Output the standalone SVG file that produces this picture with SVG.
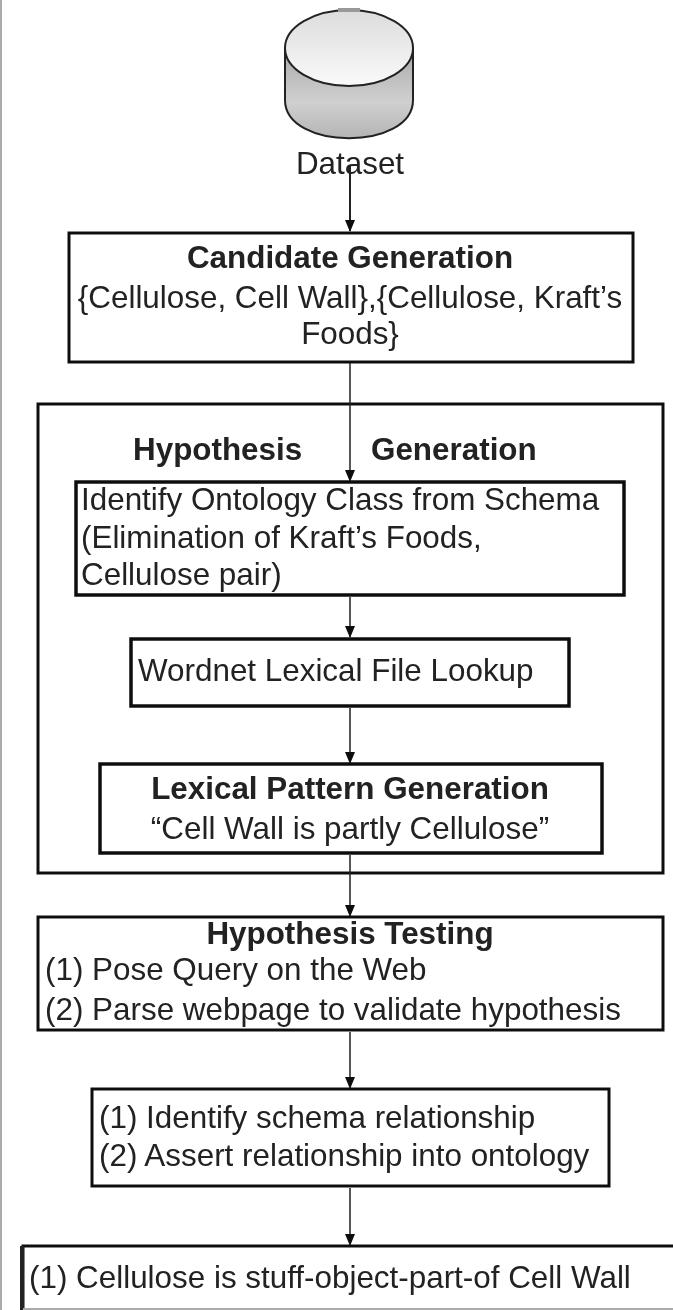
<svg xmlns="http://www.w3.org/2000/svg" width="673" height="1310" viewBox="0 0 673 1310">
<style>
text{font-family:"Liberation Sans",Arial,sans-serif;font-size:31.4px;fill:#222}
.b{font-weight:bold}.m{text-anchor:middle}
.box{fill:#fff;stroke:#111;stroke-width:3}
.thick{fill:#fff;stroke:#111;stroke-width:3.5}
.c{fill:none;stroke:#222;stroke-width:1.5}
</style>
<defs>
<linearGradient id="body" x1="0" x2="0" y1="0" y2="1"><stop offset="0" stop-color="#a8a8a8"/><stop offset="0.6" stop-color="#d0d0d0"/><stop offset="1" stop-color="#b4b4b4"/></linearGradient>
<linearGradient id="top" x1="0" x2="0" y1="0" y2="1"><stop offset="0" stop-color="#dcdcdc"/><stop offset="1" stop-color="#fafafa"/></linearGradient>
<marker id="a" markerUnits="userSpaceOnUse" markerWidth="12" markerHeight="12" refX="11" refY="6" orient="auto"><path d="M0,1L12,6L0,11z" fill="#111"/></marker>
<filter id="soft" x="0" y="0" width="1" height="1" filterUnits="objectBoundingBox"><feGaussianBlur stdDeviation="0.55"/></filter>
</defs>
<rect width="673" height="1310" fill="#fff"/>
<g filter="url(#soft)">
<rect x="0" y="0" width="673" height="1310" fill="#fff"/>
<rect x="0" y="0" width="2" height="1310" fill="#aaa"/>
<g id="dataset">
<path d="M285 48V100C285 151 413 151 413 100V48z" fill="url(#body)" stroke="#222" stroke-width="2"/>
<ellipse cx="349" cy="48" rx="64" ry="38" fill="url(#top)" stroke="#222" stroke-width="2"/>
<rect x="338" y="8" width="22" height="4" fill="#999"/>
<text class="m" x="350" y="174">Dataset</text>
</g>
<g id="candidate-generation">
<rect class="box" x="69" y="233" width="564" height="129"/>
<text class="b m" x="350" y="268">Candidate Generation</text>
<text class="m" x="350" y="308">{Cellulose, Cell Wall},{Cellulose, Kraft’s</text>
<text class="m" x="350" y="344">Foods}</text>
</g>
<g id="hypothesis-generation">
<rect class="box" x="38" y="404" width="625" height="469" style="fill:none"/>
<text class="b" x="133" y="460">Hypothesis</text>
<text class="b" x="371" y="460">Generation</text>
</g>
<g id="identify-ontology">
<rect class="thick" x="76" y="482" width="548" height="113"/>
<text x="81" y="510">Identify Ontology Class from Schema</text>
<text x="81" y="548">(Elimination of Kraft’s Foods,</text>
<text x="81" y="585">Cellulose pair)</text>
</g>
<g id="wordnet">
<rect class="thick" x="131" y="639" width="438" height="67"/>
<text x="138" y="681">Wordnet Lexical File Lookup</text>
</g>
<g id="lexical-pattern">
<rect class="thick" x="100" y="764" width="502" height="89"/>
<text class="b m" x="350" y="799">Lexical Pattern Generation</text>
<text class="m" x="350" y="839">“Cell Wall is partly Cellulose”</text>
</g>
<g id="hypothesis-testing">
<rect class="box" x="38" y="917" width="625" height="113"/>
<text class="b m" x="350" y="944">Hypothesis Testing</text>
<text x="45" y="980">(1) Pose Query on the Web</text>
<text x="45" y="1020">(2) Parse webpage to validate hypothesis</text>
</g>
<g id="assert">
<rect class="box" x="92" y="1089" width="517" height="97"/>
<text x="99" y="1128">(1) Identify schema relationship</text>
<text x="99" y="1166">(2) Assert relationship into ontology</text>
</g>
<g id="result">
<path d="M673 1246H23V1310" fill="none" stroke="#111" stroke-width="3"/>
<path d="M22 1246V1310" fill="none" stroke="#222" stroke-width="4"/>
<path d="M23 1309H673" fill="none" stroke="#aaa" stroke-width="2"/>
<text x="29" y="1288">(1) Cellulose is stuff-object-part-of Cell Wall</text>
</g>
<g id="connectors">
<path class="c" d="M350 165V231" style="stroke-width:2" marker-end="url(#a)"/>
<path class="c" d="M350 363V481" marker-end="url(#a)"/>
<path class="c" d="M350 597V637" marker-end="url(#a)"/>
<path class="c" d="M350 708V763" marker-end="url(#a)"/>
<path class="c" d="M350 855V916" marker-end="url(#a)"/>
<path class="c" d="M350 1032V1088" marker-end="url(#a)"/>
<path class="c" d="M350 1188V1245" marker-end="url(#a)"/>
</g>
</g>
</svg>
